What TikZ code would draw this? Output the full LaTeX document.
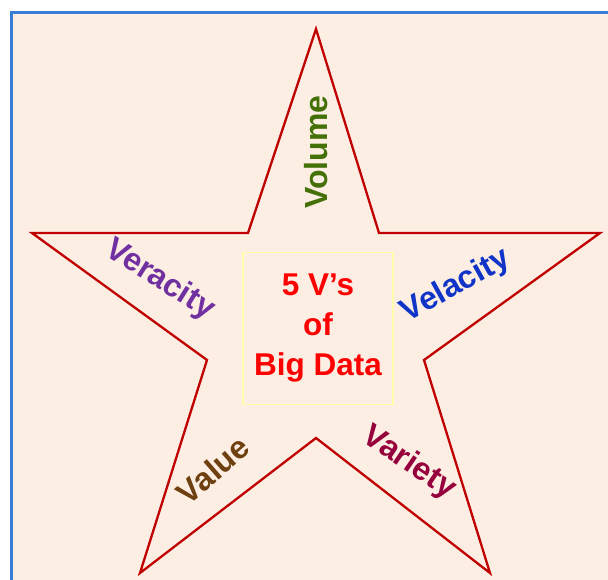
\documentclass[tikz,border=0pt]{standalone}
\usepackage{fontspec}
\setmainfont{Liberation Sans}
\definecolor{peach}{RGB}{253,238,227}
\definecolor{frameblue}{RGB}{58,124,214}
\definecolor{starred}{RGB}{192,0,0}
\definecolor{boxyellow}{RGB}{255,255,170}
\definecolor{cvolume}{RGB}{68,112,8}
\definecolor{cveracity}{RGB}{112,48,160}
\definecolor{cvelacity}{RGB}{16,52,200}
\definecolor{cvalue}{RGB}{110,64,16}
\definecolor{cvariety}{RGB}{150,0,60}
\tikzset{
  vlabel/.style={font=\bfseries\fontsize{32}{36}\selectfont, inner sep=0pt},
}
\begin{document}
\begin{tikzpicture}[x=1pt,y=-1pt]
\useasboundingbox (0,0) rectangle (608,580);
\clip (0,0) rectangle (608,580);
\fill[white] (0,0) rectangle (608,580);
\draw[frameblue, line width=2.6pt, fill=peach] (11.5,12.5) rectangle (640,620);
% star
\coordinate (t) at (316,29);
\coordinate (ir) at (379,233);
\coordinate (r) at (600,233);
\coordinate (lr) at (424,360);
\coordinate (br) at (490,573);
\coordinate (ib) at (316,438);
\coordinate (bl) at (140,573);
\coordinate (ll) at (207,360);
\coordinate (l) at (32,233);
\coordinate (il) at (248,233);
\draw[starred, line width=2.3pt, line join=miter] (t) -- (ir) -- (r) -- (lr) -- (br) -- (ib) -- (bl) -- (ll) -- (l) -- (il) -- cycle;
% centre box
\node[draw=boxyellow, line width=1.4pt, minimum width=150pt, minimum height=152pt, inner sep=0pt] (box) at (318,328.5) {};
\node[text=red, font=\bfseries\fontsize{31.5}{40}\selectfont, align=center] (title) at (box.center) {5 V’s\\of\\Big Data};
% labels
\node[vlabel, text=cvolume, rotate=90] (volume) at (316,152) {Volume};
\node[vlabel, text=cveracity, rotate=-32] (veracity) at (160,280) {Veracity};
\node[vlabel, text=cvelacity, rotate=29] (velacity) at (456,286) {Velacity};
\node[vlabel, text=cvalue, rotate=41] (value) at (213,470) {Value};
\node[vlabel, text=cvariety, rotate=-34] (variety) at (409,463) {Variety};
\end{tikzpicture}
\end{document}
